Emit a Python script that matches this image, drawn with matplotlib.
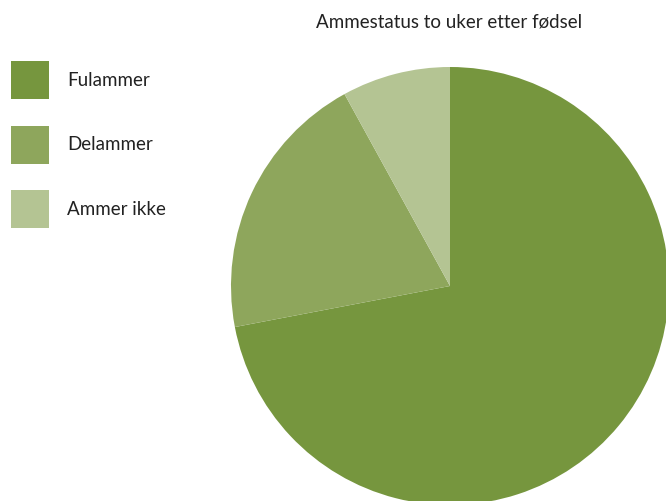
import matplotlib.pyplot as plt
from matplotlib.patches import Rectangle

# Ammestatus to uker etter fødsel (andel, %)
labels = ['Fulammer', 'Delammer', 'Ammer ikke']
values = [72, 20, 8]
colors = ['#76963E', '#8EA65C', '#B4C493']
title = 'Ammestatus to uker etter fødsel'

W, H = 666, 501


def main():
    plt.rcParams['font.family'] = ['Lato', 'DejaVu Sans']

    fig = plt.figure(figsize=(W / 100, H / 100), dpi=100)
    ax = fig.add_axes([0, 0, 1, 1])

    # pie, partly cut off at the right and bottom edges
    ax.pie(values, colors=colors, startangle=90, counterclock=False,
           center=(450, H - 286), radius=219, frame=True,
           wedgeprops={'linewidth': 0})
    ax.set_xlim(0, W)
    ax.set_ylim(0, H)
    ax.axis('off')

    ax.text(449, H - 22, title, ha='center', va='center', fontsize=13.5,
            color='#222222')

    # legend on the left
    for i, (lab, col) in enumerate(zip(labels, colors)):
        yc = H - (80 + i * 64.5)
        ax.add_patch(Rectangle((11, yc - 19), 38, 38, facecolor=col,
                               edgecolor='none'))
        ax.text(67, yc, lab, ha='left', va='center', fontsize=13.5,
                color='#222222')

    fig.savefig('out.png', dpi=100)


if __name__ == '__main__':
    main()
